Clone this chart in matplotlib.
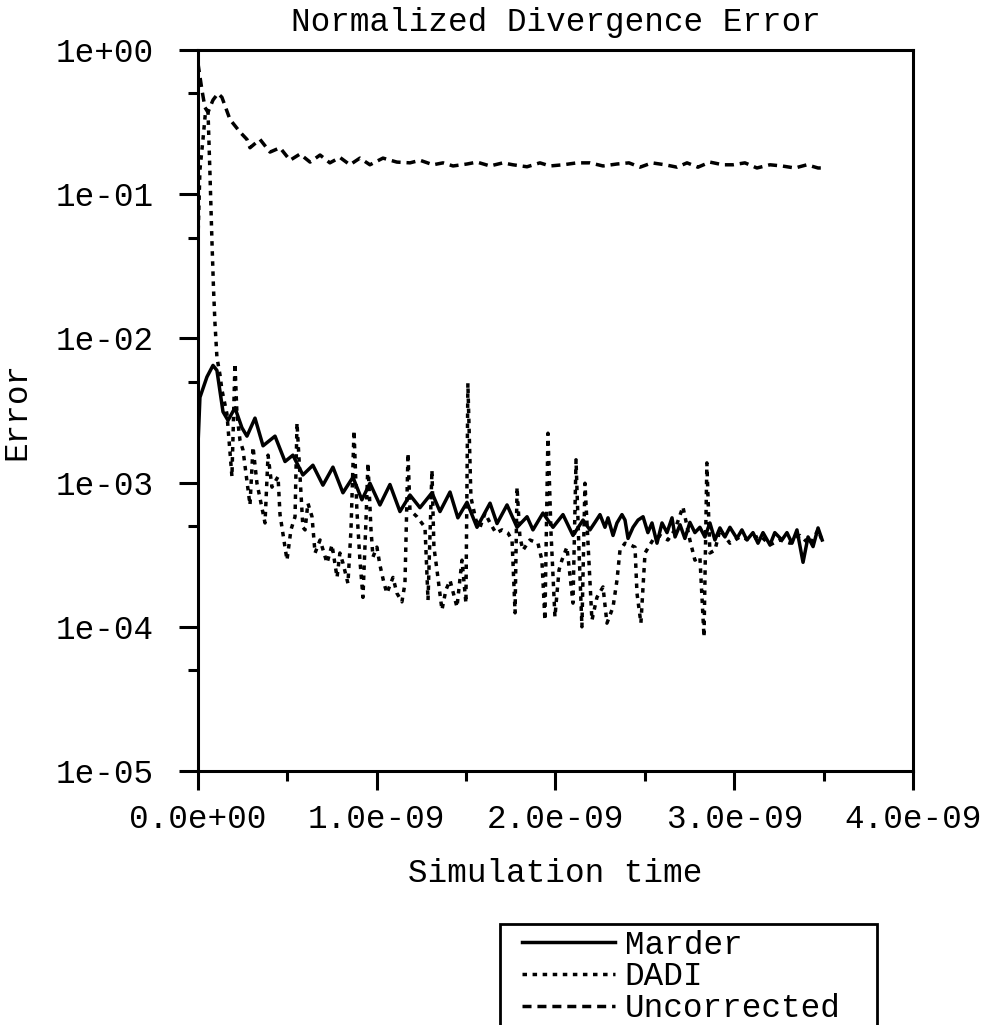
import matplotlib
matplotlib.use("Agg")
import matplotlib.pyplot as plt
from matplotlib.patches import Rectangle
from matplotlib.ticker import FixedLocator, FuncFormatter
import numpy as np

# ── Data (time in ns, normalized divergence error) ──
marder_t = [0.000, 0.011, 0.050, 0.084, 0.106, 0.140, 0.168, 0.207, 0.246, 0.274,
            0.319, 0.364, 0.431, 0.487, 0.531, 0.587, 0.643, 0.699, 0.755, 0.811,
            0.867, 0.917, 0.962, 1.018, 1.074, 1.130, 1.186, 1.242, 1.309, 1.354,
            1.410, 1.454, 1.505, 1.561, 1.634, 1.673, 1.729, 1.785, 1.841, 1.874,
            1.930, 1.986, 2.042, 2.098, 2.154, 2.193, 2.221, 2.249, 2.277, 2.294,
            2.322, 2.344, 2.372, 2.389, 2.406, 2.434, 2.462, 2.490, 2.517, 2.540,
            2.568, 2.596, 2.624, 2.652, 2.669, 2.697, 2.724, 2.752, 2.780, 2.808,
            2.836, 2.864, 2.892, 2.920, 2.948, 2.976, 3.015, 3.043, 3.071, 3.105,
            3.133, 3.161, 3.200, 3.227, 3.267, 3.295, 3.323, 3.351, 3.385, 3.413,
            3.441, 3.469, 3.492]
marder_err = [1.8e-3, 3.9e-3, 5.4e-3, 6.5e-3, 6.0e-3, 3.1e-3, 2.7e-3, 3.3e-3, 2.4e-3, 2.1e-3,
              2.8e-3, 1.8e-3, 2.1e-3, 1.4e-3, 1.55e-3, 1.13e-3, 1.32e-3, 9.6e-4, 1.28e-3, 8.5e-4,
              1.09e-3, 7.6e-4, 9.9e-4, 7.0e-4, 9.7e-4, 6.3e-4, 8.2e-4, 6.7e-4, 8.5e-4, 6.3e-4,
              8.6e-4, 5.7e-4, 7.3e-4, 4.9e-4, 7.2e-4, 5.2e-4, 7.0e-4, 4.9e-4, 5.8e-4, 4.7e-4,
              6.15e-4, 4.9e-4, 6.0e-4, 4.3e-4, 5.5e-4, 4.7e-4, 5.3e-4, 6.0e-4, 4.9e-4, 5.7e-4,
              4.3e-4, 5.25e-4, 6.0e-4, 5.5e-4, 4.1e-4, 4.9e-4, 5.5e-4, 5.8e-4, 4.5e-4, 5.25e-4,
              3.8e-4, 5.25e-4, 4.5e-4, 5.7e-4, 4.2e-4, 5.1e-4, 4.1e-4, 5.3e-4, 4.5e-4, 4.9e-4,
              4.2e-4, 5.25e-4, 4.0e-4, 4.85e-4, 4.2e-4, 4.9e-4, 4.1e-4, 4.7e-4, 4.0e-4, 4.5e-4,
              3.8e-4, 4.5e-4, 3.7e-4, 4.5e-4, 4.0e-4, 4.5e-4, 3.8e-4, 4.7e-4, 2.8e-4, 4.2e-4,
              3.6e-4, 4.85e-4, 4.0e-4]

dadi_t = [0.000, 0.011, 0.028, 0.042, 0.056, 0.067, 0.078, 0.087, 0.095, 0.106,
          0.123, 0.134, 0.162, 0.190, 0.207, 0.218, 0.235, 0.252, 0.291, 0.308,
          0.330, 0.375, 0.392, 0.414, 0.448, 0.459, 0.487, 0.498, 0.520, 0.543,
          0.554, 0.571, 0.587, 0.599, 0.615, 0.638, 0.655, 0.683, 0.722, 0.750,
          0.778, 0.794, 0.811, 0.839, 0.856, 0.873, 0.889, 0.906, 0.923, 0.940,
          0.951, 0.968, 0.979, 1.001, 1.018, 1.041, 1.057, 1.091, 1.113, 1.141,
          1.158, 1.175, 1.186, 1.225, 1.270, 1.287, 1.309, 1.320, 1.337, 1.365,
          1.387, 1.410, 1.449, 1.477, 1.499, 1.510, 1.527, 1.555, 1.578, 1.606,
          1.634, 1.667, 1.701, 1.734, 1.757, 1.774, 1.785, 1.801, 1.818, 1.857,
          1.902, 1.924, 1.941, 1.958, 1.975, 1.997, 2.020, 2.036, 2.064, 2.098,
          2.115, 2.131, 2.148, 2.165, 2.182, 2.204, 2.232, 2.266, 2.288, 2.322,
          2.344, 2.361, 2.389, 2.417, 2.445, 2.456, 2.478, 2.501, 2.545, 2.585,
          2.629, 2.668, 2.713, 2.752, 2.780, 2.808, 2.831, 2.847, 2.864, 2.892,
          2.920, 2.976, 3.032, 3.088, 3.144, 3.200, 3.256, 3.312, 3.368, 3.424,
          3.469, 3.497]
dadi_err = [4.8e-2, 0.148, 0.24, 0.37, 0.38, 0.14, 4.8e-2, 2.2e-2, 1.28e-2, 7.4e-3,
            5.6e-3, 4.4e-3, 3.0e-3, 1.1e-3, 6.7e-3, 3.0e-3, 1.97e-3, 1.68e-3, 7.0e-4, 1.77e-3,
            9.9e-4, 5.25e-4, 1.55e-3, 9.3e-4, 1.1e-3, 6.0e-4, 3.57e-4, 2.9e-4, 4.7e-4, 5.8e-4,
            2.6e-3, 1.1e-3, 4.9e-4, 4.7e-4, 7.2e-4, 5.8e-4, 3.25e-4, 4.0e-4, 2.77e-4, 3.7e-4,
            2.2e-4, 3.25e-4, 2.77e-4, 2.0e-4, 4.7e-4, 2.3e-3, 6.45e-4, 2.9e-4, 1.6e-4, 5.5e-4,
            1.37e-3, 4.7e-4, 3.05e-4, 3.57e-4, 2.68e-4, 2.0e-4, 1.71e-4, 2.2e-4, 1.71e-4, 1.49e-4,
            2.0e-4, 1.6e-3, 6.45e-4, 5.8e-4, 4.9e-4, 1.53e-4, 1.22e-3, 3.57e-4, 2.48e-4, 1.31e-4,
            1.8e-4, 2.1e-4, 1.37e-4, 2.9e-4, 1.46e-4, 4.9e-3, 7.9e-4, 5.5e-4, 4.9e-4, 6.15e-4,
            5.25e-4, 4.47e-4, 4.7e-4, 4.47e-4, 4.0e-4, 1.25e-4, 9.3e-4, 4.2e-4, 3.4e-4, 4.0e-4,
            3.8e-4, 2.9e-4, 1.11e-4, 2.2e-3, 4.5e-4, 1.17e-4, 2.48e-4, 2.9e-4, 3.57e-4, 1.46e-4,
            1.44e-3, 3.57e-4, 1.0e-4, 9.9e-4, 3.8e-4, 1.11e-4, 1.6e-4, 1.89e-4, 1.06e-4, 1.37e-4,
            2.1e-4, 3.4e-4, 3.8e-4, 3.7e-4, 3.57e-4, 1.71e-4, 1.06e-4, 3.25e-4, 4.0e-4, 4.3e-4,
            4.0e-4, 4.7e-4, 6.8e-4, 4.0e-4, 2.9e-4, 3.05e-4, 8.5e-5, 1.37e-3, 3.25e-4, 3.4e-4,
            4.7e-4, 3.8e-4, 4.2e-4, 4.0e-4, 4.3e-4, 3.7e-4, 4.0e-4, 3.8e-4, 4.3e-4, 3.7e-4,
            4.7e-4, 3.8e-4]

uncorr_t = [0.000, 0.022, 0.039, 0.056, 0.084, 0.112, 0.134, 0.179, 0.235, 0.274,
            0.291, 0.347, 0.403, 0.459, 0.515, 0.571, 0.627, 0.683, 0.738, 0.794,
            0.850, 0.906, 0.962, 1.035, 1.113, 1.186, 1.242, 1.315, 1.371, 1.427,
            1.505, 1.561, 1.634, 1.706, 1.762, 1.841, 1.913, 1.969, 2.042, 2.120,
            2.193, 2.266, 2.344, 2.411, 2.473, 2.540, 2.613, 2.680, 2.736, 2.797,
            2.864, 2.937, 2.993, 3.060, 3.127, 3.200, 3.267, 3.340, 3.407, 3.469,
            3.502]
uncorr_err = [0.81, 0.53, 0.40, 0.37, 0.45, 0.50, 0.47, 0.33, 0.27, 0.24,
              0.21, 0.24, 0.196, 0.21, 0.172, 0.19, 0.167, 0.187, 0.165, 0.18,
              0.16, 0.178, 0.16, 0.178, 0.167, 0.165, 0.172, 0.16, 0.165, 0.157,
              0.162, 0.167, 0.157, 0.165, 0.16, 0.155, 0.165, 0.157, 0.16, 0.165,
              0.165, 0.157, 0.162, 0.165, 0.154, 0.165, 0.16, 0.154, 0.165, 0.154,
              0.167, 0.16, 0.16, 0.165, 0.152, 0.16, 0.157, 0.152, 0.16, 0.152,
              0.152]

x_major = [0.0, 1e-9, 2e-9, 3e-9, 4e-9]
x_minor = [0.5e-9, 1.5e-9, 2.5e-9, 3.5e-9]
y_major = [1e-5, 1e-4, 1e-3, 1e-2, 1e-1, 1e0]
y_minor = [5e-5, 5e-4, 5e-3, 5e-2, 5e-1]

plt.rcParams['font.family'] = ['Liberation Mono', 'DejaVu Sans Mono']
plt.rcParams['font.size'] = 23.5

fig = plt.figure(figsize=(9.82, 10.25), dpi=100)
ax = fig.add_axes([0.2016, 0.2478, 0.7281, 0.7034])

ns = 1e-9
lw = 2.5
ax.plot(np.array(marder_t) * ns, marder_err, color='black', lw=lw, ls='-', label='Marder')
ax.plot(np.array(dadi_t) * ns, dadi_err, color='black', lw=lw, ls=(0, (1.3, 1.6)), label='DADI')
ax.plot(np.array(uncorr_t) * ns, uncorr_err, color='black', lw=lw, ls=(0, (2.6, 1.7)), label='Uncorrected')

ax.set_yscale('log')
ax.set_xlim(0, 4e-9)
ax.set_ylim(1e-5, 1e0)

ax.xaxis.set_major_locator(FixedLocator(x_major))
ax.xaxis.set_minor_locator(FixedLocator(x_minor))
ax.yaxis.set_major_locator(FixedLocator(y_major))
ax.yaxis.set_minor_locator(FixedLocator(y_minor))
ax.xaxis.set_major_formatter(FuncFormatter(lambda v, p: f"{v:.1e}"))
ax.yaxis.set_major_formatter(FuncFormatter(lambda v, p: f"{v:.0e}"))
ax.yaxis.set_minor_formatter(FuncFormatter(lambda v, p: ""))

for s in ax.spines.values():
    s.set_linewidth(2.2)
ax.tick_params(which='major', direction='out', length=14, width=2.2, pad=10)
ax.tick_params(which='minor', direction='out', length=7, width=2.2)
ax.tick_params(axis='y', which='major', pad=17.5)

ax.set_title('Normalized Divergence Error', fontsize=23.5, pad=14)
ax.set_xlabel('Simulation time', labelpad=16)
ax.set_ylabel('Error', labelpad=17)

# ── Legend below the plot, with a plain box that runs off the bottom edge ──
leg = fig.legend(loc='upper left', bbox_to_anchor=(0.5316, 0.0930), frameon=False,
                 handlelength=2.85, handletextpad=0.3, labelspacing=0.02,
                 borderpad=0.0, borderaxespad=0)
box = Rectangle((0.5092, -0.01), 0.3839, 0.1085, transform=fig.transFigure,
                fill=False, edgecolor='black', lw=2.0, clip_on=False)
fig.patches.append(box)

fig.savefig('out.png', dpi=100)
